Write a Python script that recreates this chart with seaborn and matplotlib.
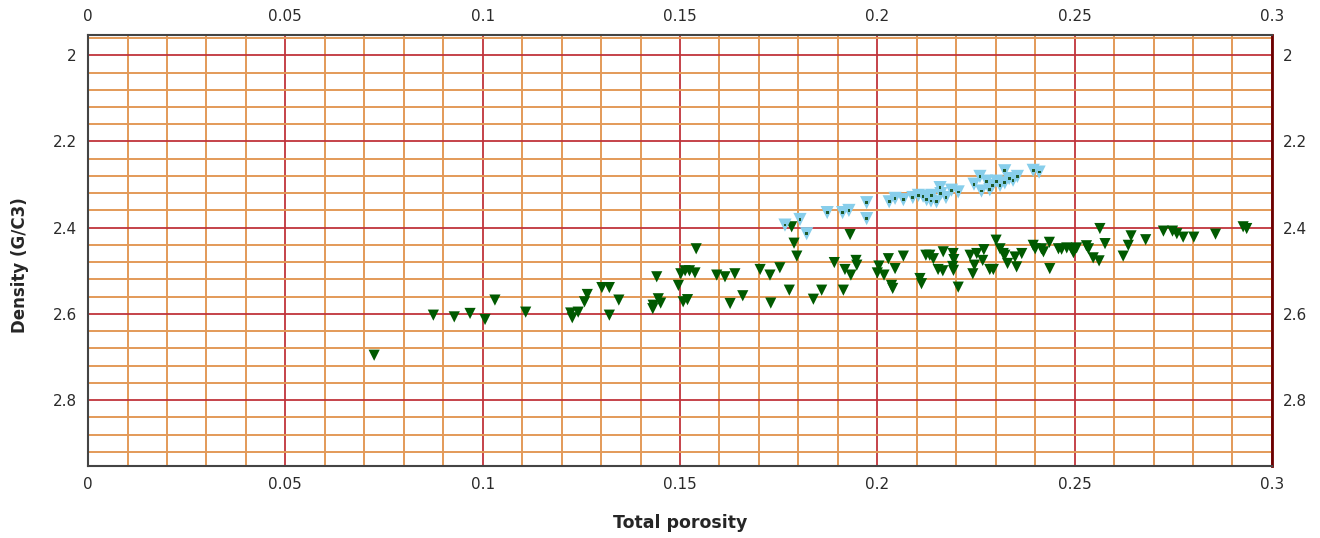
import numpy as np
import pandas as pd
import matplotlib
matplotlib.use("Agg")
import matplotlib.pyplot as plt
import seaborn as sns
from matplotlib.ticker import MultipleLocator

# dark green series
green_phi = [0.0725, 0.0875, 0.0928, 0.0968, 0.1006, 0.1031, 0.1109, 0.1223, 0.1227, 0.1242,
             0.1258, 0.1265, 0.1302, 0.1321, 0.1321, 0.1345, 0.1432, 0.1445, 0.1451, 0.1431,
             0.1441, 0.1496, 0.1502, 0.1513, 0.1524, 0.1538, 0.1508, 0.1519, 0.1541, 0.1593,
             0.1614, 0.1639, 0.1627, 0.1659, 0.1703, 0.1728, 0.1753, 0.1730, 0.1777, 0.1783,
             0.1789, 0.1796, 0.1838, 0.1859, 0.1891, 0.1931, 0.1914, 0.1918, 0.1933, 0.1946,
             0.1948, 0.2004, 0.2000, 0.2017, 0.2028, 0.2036, 0.2039, 0.2045, 0.2066, 0.2108,
             0.2112, 0.2123, 0.2133, 0.2142, 0.2167, 0.2154, 0.2166, 0.2192, 0.2194, 0.2191,
             0.2193, 0.2205, 0.2235, 0.2252, 0.2246, 0.2242, 0.2267, 0.2270, 0.2285, 0.2294,
             0.2301, 0.2311, 0.2319, 0.2330, 0.2323, 0.2349, 0.2353, 0.2366, 0.2395, 0.2400,
             0.2416, 0.2421, 0.2436, 0.2437, 0.2459, 0.2467, 0.2480, 0.2492, 0.2497, 0.2505,
             0.2530, 0.2535, 0.2547, 0.2562, 0.2564, 0.2577, 0.2623, 0.2636, 0.2643, 0.2680,
             0.2725, 0.2748, 0.2759, 0.2775, 0.2802, 0.2857, 0.2927, 0.2936]
green_rho = [2.696, 2.603, 2.607, 2.599, 2.613, 2.568, 2.596, 2.598, 2.609, 2.596,
             2.572, 2.555, 2.539, 2.539, 2.603, 2.568, 2.580, 2.565, 2.575, 2.588,
             2.514, 2.534, 2.507, 2.500, 2.500, 2.505, 2.572, 2.567, 2.449, 2.510,
             2.514, 2.507, 2.576, 2.558, 2.497, 2.510, 2.493, 2.575, 2.545, 2.398,
             2.436, 2.466, 2.566, 2.545, 2.481, 2.416, 2.545, 2.497, 2.510, 2.476,
             2.487, 2.489, 2.505, 2.510, 2.472, 2.534, 2.541, 2.495, 2.466, 2.518,
             2.530, 2.464, 2.464, 2.472, 2.456, 2.497, 2.500, 2.460, 2.474, 2.490,
             2.499, 2.538, 2.464, 2.460, 2.487, 2.507, 2.476, 2.451, 2.497, 2.497,
             2.429, 2.449, 2.460, 2.483, 2.464, 2.468, 2.491, 2.460, 2.441, 2.449,
             2.449, 2.456, 2.434, 2.495, 2.449, 2.450, 2.447, 2.449, 2.458, 2.447,
             2.442, 2.449, 2.470, 2.477, 2.402, 2.437, 2.466, 2.441, 2.419, 2.428,
             2.408, 2.408, 2.414, 2.422, 2.422, 2.415, 2.398, 2.402]

# light blue series
blue_phi = [0.1766, 0.1804, 0.1821, 0.1873, 0.1912, 0.1928, 0.1973, 0.1973, 0.2030, 0.2045,
            0.2066, 0.2090, 0.2104, 0.2116, 0.2125, 0.2138, 0.2136, 0.2150, 0.2159, 0.2161,
            0.2174, 0.2188, 0.2205, 0.2245, 0.2260, 0.2264, 0.2277, 0.2285, 0.2292, 0.2302,
            0.2311, 0.2323, 0.2323, 0.2334, 0.2344, 0.2355, 0.2395, 0.2410]
blue_rho = [2.394, 2.381, 2.414, 2.365, 2.365, 2.360, 2.342, 2.379, 2.340, 2.332,
            2.335, 2.330, 2.325, 2.327, 2.335, 2.325, 2.338, 2.340, 2.307, 2.321,
            2.330, 2.313, 2.317, 2.299, 2.281, 2.315, 2.292, 2.312, 2.302, 2.292,
            2.302, 2.268, 2.296, 2.286, 2.290, 2.281, 2.267, 2.271]

x_ticks = [0, 0.05, 0.1, 0.15, 0.2, 0.25, 0.3]
x_labels = ["0", "0.05", "0.1", "0.15", "0.2", "0.25", "0.3"]
y_ticks = [2.0, 2.2, 2.4, 2.6, 2.8]
y_labels = ["2", "2.2", "2.4", "2.6", "2.8"]

green_df = pd.DataFrame({"phi": green_phi, "rho": green_rho})
blue_df = pd.DataFrame({"phi": blue_phi, "rho": blue_rho})

sns.set_style("white")
plt.rcParams["font.family"] = ["DejaVu Sans"]

fig = plt.figure(figsize=(13.2, 5.38), dpi=100)
ax = fig.add_axes([0.0667, 0.1338, 0.8969, 0.8011])

ax.xaxis.set_minor_locator(MultipleLocator(0.01))
ax.yaxis.set_minor_locator(MultipleLocator(0.04))
ax.grid(which="minor", color="#e39a58", linewidth=1.4, zorder=0)
ax.grid(which="major", color="#c0343c", linewidth=1.3, zorder=0)
ax.set_axisbelow(True)

sns.scatterplot(data=green_df, x="phi", y="rho", ax=ax, marker="v", s=65,
                color="#005a00", edgecolor="none", linewidth=0, zorder=3)
sns.scatterplot(data=blue_df, x="phi", y="rho", ax=ax, marker="v", s=90,
                color="#87ceeb", edgecolor="none", linewidth=0, zorder=4)
sns.scatterplot(data=blue_df, x="phi", y="rho", ax=ax, marker="s", s=4,
                color="#1f5a2a", edgecolor="none", linewidth=0, zorder=5)

ax.set_xlim(0, 0.3)
ax.set_ylim(2.953, 1.953)
ax.set_xticks(x_ticks)
ax.set_xticklabels(x_labels)
ax.set_yticks(y_ticks)
ax.set_yticklabels(y_labels)

ax.tick_params(axis="both", which="both", length=0, labelsize=11, colors="#2a2a2a")
ax.tick_params(axis="x", top=True, labeltop=True, pad=8)
ax.tick_params(axis="y", right=True, labelright=True, pad=8)

for side in ["top", "left", "bottom"]:
    ax.spines[side].set_color("#444444")
    ax.spines[side].set_linewidth(1.5)
ax.spines["right"].set_color("#6b0000")
ax.spines["right"].set_linewidth(2)

ax.set_xlabel("Total porosity", fontsize=12.5, fontweight="bold")
ax.set_ylabel("Density (G/C3)", fontsize=12, fontweight="bold")
ax.xaxis.set_label_coords(0.5, -0.112)
ax.yaxis.set_label_coords(-0.05, 0.465)

fig.savefig("out.png", dpi=100)
